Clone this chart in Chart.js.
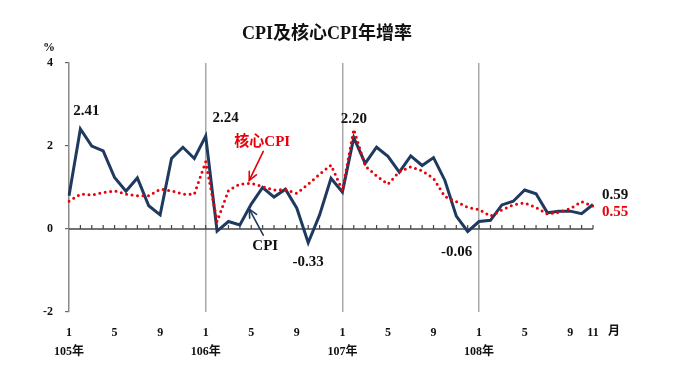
<!DOCTYPE html>
<html>
<head>
<meta charset="utf-8">
<script src="https://cdn.jsdelivr.net/npm/chart.js@4"></script>
<style>
html,body{margin:0;padding:0;background:#fff;}
canvas{display:block;}
</style>
</head>
<body>
<canvas id="c" width="680" height="383"></canvas>
<script>
const months = [1,2,3,4,5,6,7,8,9,10,11,12,
                1,2,3,4,5,6,7,8,9,10,11,12,
                1,2,3,4,5,6,7,8,9,10,11,12,
                1,2,3,4,5,6,7,8,9,10,11];
const yearLabels = ['105年','106年','107年','108年'];
const shownMonths = [1,5,9];
const cpi = [0.80,2.41,2.00,1.88,1.24,0.91,1.23,0.56,0.34,1.70,1.97,1.70,
             2.24,-0.05,0.18,0.10,0.60,1.00,0.77,0.96,0.50,-0.33,0.34,1.22,
             0.89,2.20,1.58,1.97,1.75,1.37,1.76,1.53,1.72,1.17,0.31,-0.06,
             0.18,0.21,0.58,0.67,0.94,0.85,0.39,0.43,0.43,0.37,0.59];
const coreCpi = [0.67,0.84,0.82,0.88,0.92,0.84,0.80,0.80,0.96,0.92,0.84,0.84,
                 1.62,0.18,0.93,1.08,1.10,1.02,0.94,0.95,0.86,1.08,1.32,1.54,
                 0.93,2.40,1.52,1.28,1.08,1.38,1.50,1.40,1.22,0.78,0.66,0.52,
                 0.47,0.31,0.46,0.58,0.63,0.52,0.36,0.40,0.49,0.66,0.55];
const yMin = -2, yMax = 4, yStep = 2;
const titleText = 'CPI及核心CPI年增率';

const SERIF = '"Liberation Serif","Times New Roman","Noto Sans CJK TC",serif';
const NAVY = '#1f3a5f';
const RED = '#e8000b';

const labels = months.map((m,i)=> i);

const drawArrow = (ctx, x1, y1, x2, y2, color) => {
  ctx.save();
  ctx.strokeStyle = color; ctx.lineWidth = 1.6; ctx.lineCap='round';
  ctx.beginPath(); ctx.moveTo(x1,y1); ctx.lineTo(x2,y2); ctx.stroke();
  const a = Math.atan2(y2-y1, x2-x1), L = 9, w = 0.45;
  ctx.beginPath();
  ctx.moveTo(x2 - L*Math.cos(a-w), y2 - L*Math.sin(a-w));
  ctx.lineTo(x2, y2);
  ctx.lineTo(x2 - L*Math.cos(a+w), y2 - L*Math.sin(a+w));
  ctx.stroke();
  ctx.restore();
};

const annotations = [
  {text:'2.41', i:1,  s:'cpi',  dx:6,  dy:-18, color:'#111'},
  {text:'2.24', i:12, s:'cpi',  dx:20, dy:-18, color:'#111'},
  {text:'2.20', i:25, s:'cpi',  dx:0,  dy:-19, color:'#111'},
  {text:'-0.33',i:21, s:'cpi',  dx:0,  dy:19,  color:'#111'},
  {text:'-0.06',i:35, s:'cpi',  dx:-11,dy:21,  color:'#111'},
  {text:'0.59', i:46, s:'cpi',  dx:22, dy:-9,  color:'#111'},
  {text:'0.55', i:46, s:'core', dx:22, dy:6,   color:RED}
];

const plugin = {
  id:'extras',
  beforeDatasetsDraw(chart){
    const {ctx, scales:{x,y}} = chart;
    const y0 = y.getPixelForValue(0);
    ctx.save();
    ctx.strokeStyle = '#444'; ctx.lineWidth = 1.5;
    ctx.beginPath();
    ctx.moveTo(x.getPixelForValue(0), y0);
    ctx.lineTo(x.getPixelForValue(months.length-1), y0);
    ctx.stroke();
    ctx.lineWidth = 1.2;
    for (let i=1;i<months.length;i++){
      const px = x.getPixelForValue(i);
      ctx.beginPath(); ctx.moveTo(px, y0); ctx.lineTo(px, y0-4); ctx.stroke();
    }
    ctx.restore();
  },
  afterDatasetsDraw(chart){
    const {ctx, scales:{x,y}} = chart;
    ctx.save();
    ctx.textAlign='center'; ctx.textBaseline='middle';
    ctx.fillStyle='#111';
    ctx.font = 'bold 18px '+SERIF;
    ctx.fillText(titleText, 327, 34);
    ctx.font = 'bold 12px '+SERIF;
    ctx.fillText('%', 49, 48);
    ctx.font = 'bold 12px '+SERIF;
    ctx.fillText('月', 614, y.bottom + 20);
    ctx.font = 'bold 15px '+SERIF;
    annotations.forEach(a=>{
      const v = a.s==='cpi' ? cpi[a.i] : coreCpi[a.i];
      ctx.fillStyle = a.color;
      ctx.fillText(a.text, x.getPixelForValue(a.i)+a.dx, y.getPixelForValue(v)+a.dy);
    });
    const cx = x.getPixelForValue(16), cyCore = y.getPixelForValue(coreCpi[16]), cyCpi = y.getPixelForValue(cpi[16]);
    ctx.font = 'bold 15px '+SERIF;
    ctx.fillStyle = RED;
    ctx.fillText('核心CPI', cx+11, cyCore-41);
    drawArrow(ctx, cx+12, cyCore-32, cx-2, cyCore-3, RED);
    ctx.fillStyle = '#111';
    ctx.fillText('CPI', cx+14, cyCpi+42);
    drawArrow(ctx, cx+12, cyCpi+31, cx-2, cyCpi+5, NAVY);
    ctx.restore();
  }
};

new Chart(document.getElementById('c'), {
  type:'line',
  data:{
    labels: labels,
    datasets:[
      {label:'核心CPI', data: coreCpi, borderColor: RED, borderWidth:3,
       borderDash:[0,5.5], borderCapStyle:'round', pointRadius:0, tension:0, fill:false},
      {label:'CPI', data: cpi, borderColor: NAVY, borderWidth:3,
       pointRadius:0, tension:0, fill:false, borderJoinStyle:'miter'}
    ]
  },
  options:{
    responsive:false, animation:false, devicePixelRatio:1,
    layout:{padding:{left:0, right:87, top:63, bottom:0}},
    plugins:{legend:{display:false}, tooltip:{enabled:false}, title:{display:false}},
    scales:{
      x:{
        type:'category', offset:false,
        grid:{
          drawOnChartArea:true, drawTicks:false, lineWidth:1.5,
          color:(c)=> (c.index>0 && c.index%12===0) ? '#a9a9a9' : 'rgba(0,0,0,0)'
        },
        border:{display:false},
        ticks:{
          autoSkip:false, maxRotation:0, minRotation:0, padding:12,
          color:'#111',
          font:{family:SERIF, size:12, weight:'bold', lineHeight:1.55},
          callback:(v,i)=>{
            const m = months[i];
            if (m===1) return [String(m), yearLabels[Math.floor(i/12)]];
            if (shownMonths.includes(m) || i===months.length-1) return String(m);
            return '';
          }
        },
        afterFit:(s)=>{ s.height = 71; }
      },
      y:{
        min:yMin, max:yMax,
        ticks:{stepSize:yStep, padding:12, color:'#111',
               font:{family:SERIF, size:12, weight:'bold'}},
        grid:{drawOnChartArea:false, drawTicks:true, tickLength:4, color:'#666', lineWidth:1.2},
        border:{display:true, color:'#8a8a8a', width:1.5},
        afterFit:(s)=>{ s.width = 69; }
      }
    }
  },
  plugins:[plugin]
});
</script>
</body>
</html>
